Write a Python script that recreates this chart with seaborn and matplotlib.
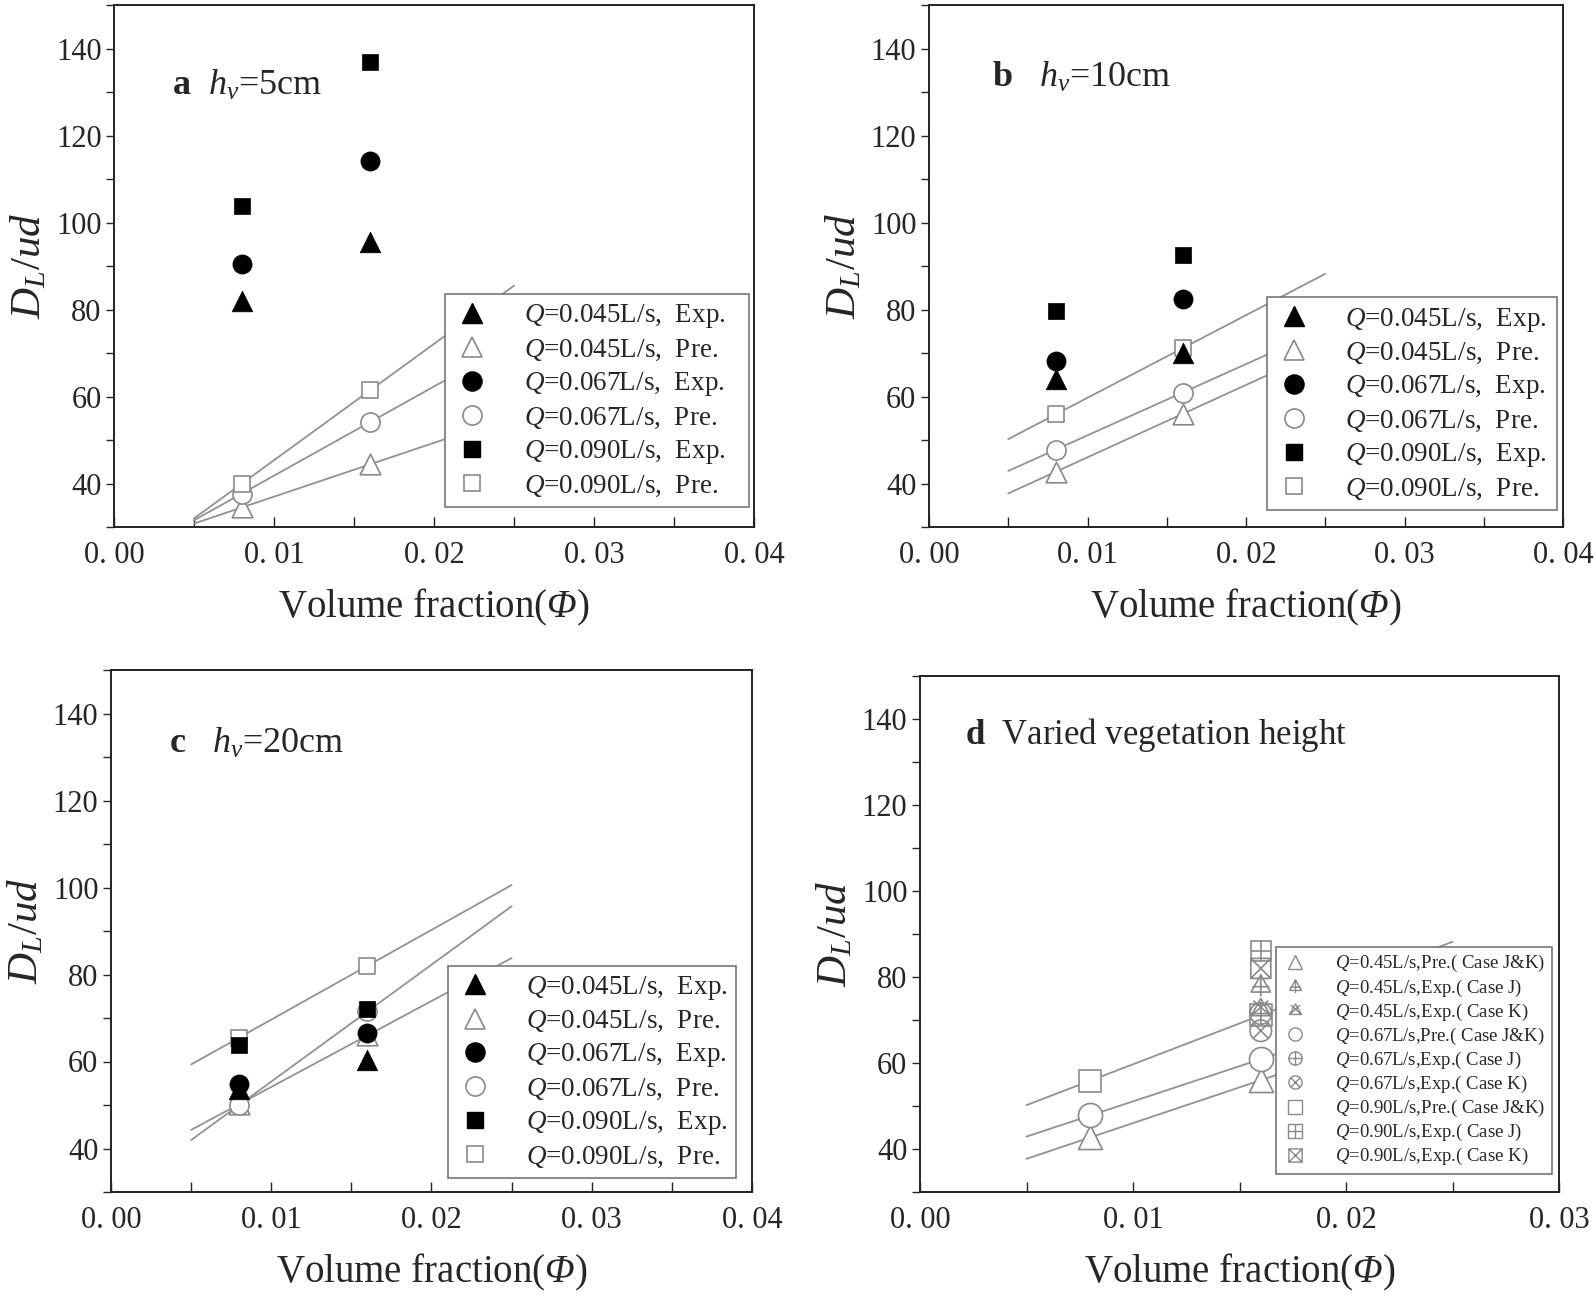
import numpy as np
import seaborn as sns
import matplotlib.pyplot as plt
from matplotlib.path import Path
from matplotlib.lines import Line2D
from matplotlib.ticker import MultipleLocator, FuncFormatter

# Data (D_L/ud at two volume fractions)
phi = [0.008, 0.016]
flows = ["0.045", "0.067", "0.090"]

# rows: Q=0.045, 0.067, 0.090
a_exp = [[82.0, 95.5], [90.5, 114.2], [103.8, 136.8]]
a_pre = [[34.5, 44.4], [37.7, 54.1], [40.0, 61.4]]
b_exp = [[64.1, 70.0], [68.1, 82.4], [79.7, 92.6]]
b_pre = [[42.7, 56.0], [47.8, 60.9], [55.9, 71.1]]
c_exp = [[53.7, 60.4], [54.9, 66.5], [63.7, 72.0]]
c_pre = [[50.2, 66.0], [50.0, 71.5], [65.5, 82.0]]

# panel d: varied vegetation height
d_flows = ["0.45", "0.67", "0.90"]
d_pre = [[42.7, 56.0], [47.8, 60.9], [55.9, 71.1]]
d_phi_exp = [0.016]
d_exp_J = [78.0, 71.5, 86.0]
d_exp_K = [72.5, 67.5, 82.0]

fit_range = [0.005, 0.025]

sns.set_style("ticks")
plt.rcParams["font.family"] = ["Liberation Serif", "DejaVu Serif"]
plt.rcParams["mathtext.fontset"] = "custom"
plt.rcParams["mathtext.rm"] = "Liberation Serif"
plt.rcParams["mathtext.it"] = "Liberation Serif:italic"
plt.rcParams["mathtext.bf"] = "Liberation Serif:bold"
plt.rcParams["mathtext.sf"] = "Liberation Serif:italic"

GRAY = "#8a8a8a"
LINE = "#929292"


def seg(p0, p1):
    return Path([p0, p1], [Path.MOVETO, Path.LINETO])


tri = Path([(0, 1), (-0.9, -0.6), (0.9, -0.6), (0, 1)],
           [Path.MOVETO, Path.LINETO, Path.LINETO, Path.CLOSEPOLY])
sq = Path([(-1, -1), (1, -1), (1, 1), (-1, 1), (-1, -1)],
          [Path.MOVETO, Path.LINETO, Path.LINETO, Path.LINETO, Path.CLOSEPOLY])
circ = Path.unit_circle()

tri_plus = Path.make_compound_path(tri, seg((0, 1), (0, -1)), seg((-0.8, -0.1), (0.8, -0.1)))
tri_x = Path.make_compound_path(tri, seg((-0.7, 0.8), (0.9, -0.6)), seg((0.7, 0.8), (-0.9, -0.6)))
circ_plus = Path.make_compound_path(circ, seg((-1, 0), (1, 0)), seg((0, -1), (0, 1)))
circ_x = Path.make_compound_path(circ, seg((-0.71, -0.71), (0.71, 0.71)), seg((-0.71, 0.71), (0.71, -0.71)))
sq_plus = Path.make_compound_path(sq, seg((-1, 0), (1, 0)), seg((0, -1), (0, 1)))
sq_x = Path.make_compound_path(sq, seg((-1, -1), (1, 1)), seg((-1, 1), (1, -1)))

markers = ["^", "o", "s"]
sizes = [220, 190, 140]


def style_axes(ax, xmax):
    ax.set_xlim(0, xmax)
    ax.set_ylim(30, 150)
    ax.xaxis.set_major_locator(MultipleLocator(0.01))
    ax.xaxis.set_minor_locator(MultipleLocator(0.005))
    ax.yaxis.set_minor_locator(MultipleLocator(10))
    ax.set_yticks(range(40, 141, 20))
    ax.xaxis.set_major_formatter(FuncFormatter(lambda v, p: f"{v:.2f}".replace(".", ". ")))
    ax.tick_params(axis="x", which="both", direction="in", length=7, width=1, labelsize=22, pad=10)
    ax.tick_params(axis="y", which="both", direction="out", length=6, width=1, labelsize=22, pad=3)
    for s in ax.spines.values():
        s.set_linewidth(1.4)
        s.set_color("#222222")
    ax.set_xlabel(r"Volume fraction($\mathsf{Φ}$)", fontsize=28, labelpad=12)
    ax.set_ylabel(r"$D_L/ud$", fontsize=31, labelpad=5)


def fit_lines(ax, pre):
    for row in pre:
        k, b = np.polyfit(phi, row, 1)
        xs = np.array(fit_range)
        sns.lineplot(x=xs, y=k * xs + b, ax=ax, color=LINE, lw=1.3, zorder=1)


def panel_abc(ax, exp, pre, title, anchor, label_pos, tail=""):
    fit_lines(ax, pre)
    handles = []
    for i, q in enumerate(flows):
        sns.scatterplot(x=phi, y=exp[i], ax=ax, marker=markers[i], s=sizes[i],
                        facecolor="black", edgecolor="black", linewidth=0.5, zorder=3)
        sns.scatterplot(x=phi, y=pre[i], ax=ax, marker=markers[i], s=sizes[i],
                        facecolor="white", edgecolor=GRAY, linewidth=1.2, zorder=2)
        handles.append(Line2D([], [], ls="", marker=markers[i], ms=np.sqrt(sizes[i]),
                              mfc="black", mec="black", label=rf"$Q$={q}L/s,  Exp.{tail}"))
        handles.append(Line2D([], [], ls="", marker=markers[i], ms=np.sqrt(sizes[i]),
                              mfc="white", mec=GRAY, mew=1.2, label=rf"$Q$={q}L/s,  Pre.{tail}"))
    style_axes(ax, 0.04)
    ax.text(label_pos[0], label_pos[1], title, transform=ax.transAxes,
            fontsize=26, va="center", ha="left")
    leg = ax.legend(handles=handles, loc="lower right", bbox_to_anchor=anchor,
                    fontsize=19.5, frameon=True, fancybox=False, edgecolor="#777777",
                    framealpha=1, labelspacing=0.27, handletextpad=1.2, borderpad=0.3,
                    handlelength=1.4, borderaxespad=0)
    leg.get_frame().set_linewidth(1.2)
    leg.set_zorder(5)


fig = plt.figure(figsize=(15.95, 12.98), dpi=100)
W, H = 1595, 1298


def add_ax(l, r, t, b):
    return fig.add_axes([l / W, (H - b) / H, (r - l) / W, (b - t) / H])


ax_a = add_ax(114, 754, 5, 527)
ax_b = add_ax(929, 1563, 5, 527)
ax_c = add_ax(111, 752, 670, 1192)
ax_d = add_ax(920, 1559, 676, 1192)

panel_abc(ax_a, a_exp, a_pre, r"$\mathbf{a}$  $h_v$=5cm", (0.992, 0.039), (0.09, 0.845), tail="   ")
panel_abc(ax_b, b_exp, b_pre, r"$\mathbf{b}$   $h_v$=10cm", (0.99, 0.033), (0.1, 0.86), tail=" ")
panel_abc(ax_c, c_exp, c_pre, r"$\mathbf{c}$   $h_v$=20cm", (0.975, 0.027), (0.09, 0.858))

# panel d
fit_lines(ax_d, d_pre)
pre_marks = ["^", "o", "s"]
j_marks = [tri_plus, circ_plus, sq_plus]
k_marks = [tri_x, circ_x, sq_x]
d_sizes = [300, 300, 260]
handles = []
for i, q in enumerate(d_flows):
    sns.scatterplot(x=phi, y=d_pre[i], ax=ax_d, marker=pre_marks[i], s=d_sizes[i],
                    facecolor="white", edgecolor=GRAY, linewidth=1.2, zorder=2)
    sns.scatterplot(x=d_phi_exp, y=[d_exp_J[i]], ax=ax_d, marker=j_marks[i], s=d_sizes[i] * 0.8,
                    facecolor="none", edgecolor=GRAY, linewidth=1.2, zorder=3)
    sns.scatterplot(x=d_phi_exp, y=[d_exp_K[i]], ax=ax_d, marker=k_marks[i], s=d_sizes[i] * 0.8,
                    facecolor="none", edgecolor=GRAY, linewidth=1.2, zorder=3)
    handles.append(Line2D([], [], ls="", marker=pre_marks[i], ms=9.5, mfc="none", mec=GRAY,
                          label=rf"$Q$={q}L/s,Pre.( Case J&K)"))
    handles.append(Line2D([], [], ls="", marker=j_marks[i], ms=9.5, mfc="none", mec=GRAY,
                          label=rf"$Q$={q}L/s,Exp.( Case J)"))
    handles.append(Line2D([], [], ls="", marker=k_marks[i], ms=9.5, mfc="none", mec=GRAY,
                          label=rf"$Q$={q}L/s,Exp.( Case K)"))
style_axes(ax_d, 0.03)
ax_d.text(0.07, 0.885, r"$\mathbf{d}$  Varied vegetation height", transform=ax_d.transAxes,
          fontsize=25, va="center", ha="left")
leg = ax_d.legend(handles=handles, loc="lower right", bbox_to_anchor=(0.989, 0.035),
                  fontsize=13.5, frameon=True, fancybox=False, edgecolor="#777777",
                  framealpha=1, labelspacing=0.16, handletextpad=1.5, borderpad=0.35,
                  handlelength=1.3, borderaxespad=0)
leg.get_frame().set_linewidth(1.2)
leg.set_zorder(5)

fig.savefig("out.png", dpi=100)
